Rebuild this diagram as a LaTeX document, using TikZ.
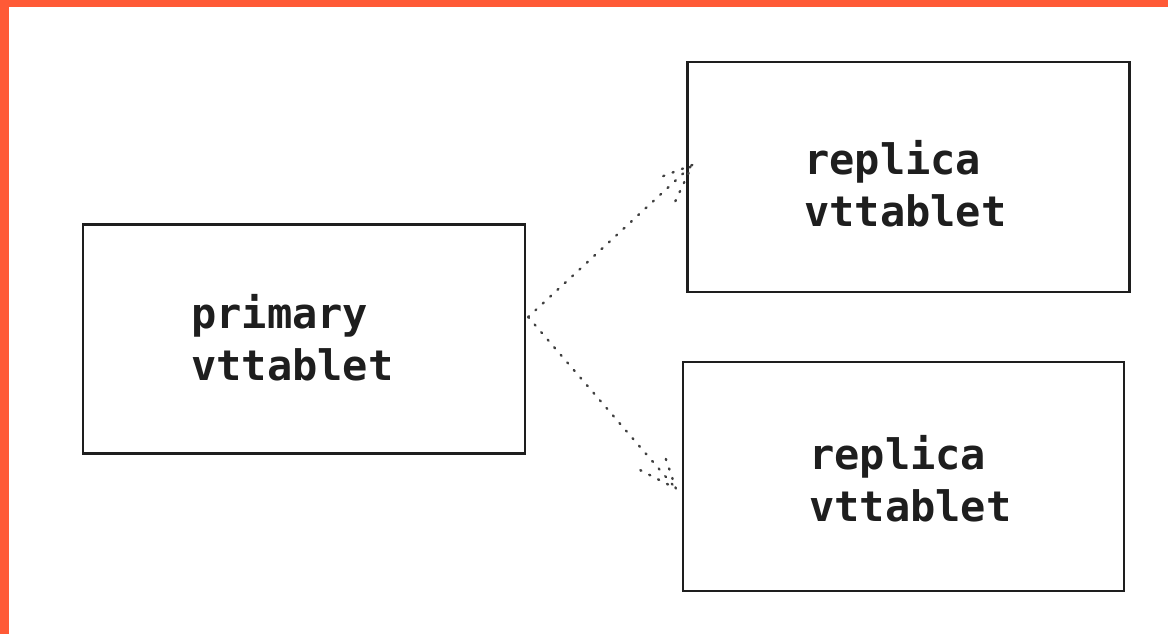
\documentclass[tikz,border=0pt]{standalone}
\usepackage{fontspec}
\newfontfamily\boxfont{DejaVu Sans Mono}
\usetikzlibrary{calc}
\definecolor{frame}{HTML}{FF5A36}
\definecolor{ink}{HTML}{1E1E1E}
\tikzset{
  box/.style={draw=ink, line width=2.3pt, minimum width=#1, inner sep=0pt},
  lbl/.style={anchor=base west, align=left, inner sep=0pt, text=ink,
    font=\boxfont\bfseries\fontsize{42}{52}\selectfont},
  link/.style={draw=ink!85, line width=2.4pt, line cap=round,
    dash pattern=on 1.2pt off 8.8pt}
}
\begin{document}
\begin{tikzpicture}[x=1pt,y=-1pt]
  \useasboundingbox (0,0) rectangle (1168,634);
  \fill[white] (0,0) rectangle (1168,634);
  % accent frame along the top and left edges
  \fill[frame] (0,0) rectangle (1168,7);
  \fill[frame] (0,0) rectangle (9,634);

  % boxes
  \node[box=442pt, minimum height=229pt] (primary) at (304,339) {};
  \node[box=442pt, minimum height=230pt] (rep1) at (908.5,177) {};
  \node[box=441pt, minimum height=229pt] (rep2) at (903.5,476.5) {};

  % labels (anchored on the baseline of the second line)
  \node[lbl] (tprimary) at (191,380) {primary\\vttablet};
  \node[lbl] (trep1) at (804,226) {replica\\vttablet};
  \node[lbl] (trep2) at (809,521) {replica\\vttablet};

  % replication links
  \coordinate (src) at ($(primary.east)+(2,-22)$);
  \coordinate (dst1) at ($(rep1.west)+(6,-12)$);
  \coordinate (dst2) at ($(rep2.west)+(-6,12)$);
  \draw[link] (src) -- (dst1);
  \draw[link] (src) -- (dst2);
  % open arrow heads, dotted like the links
  \draw[link] ($(dst1)!40pt!22:(src)$) -- (dst1) -- ($(dst1)!40pt!-22:(src)$);
  \draw[link] ($(dst2)!40pt!22:(src)$) -- (dst2) -- ($(dst2)!40pt!-22:(src)$);
\end{tikzpicture}
\end{document}
